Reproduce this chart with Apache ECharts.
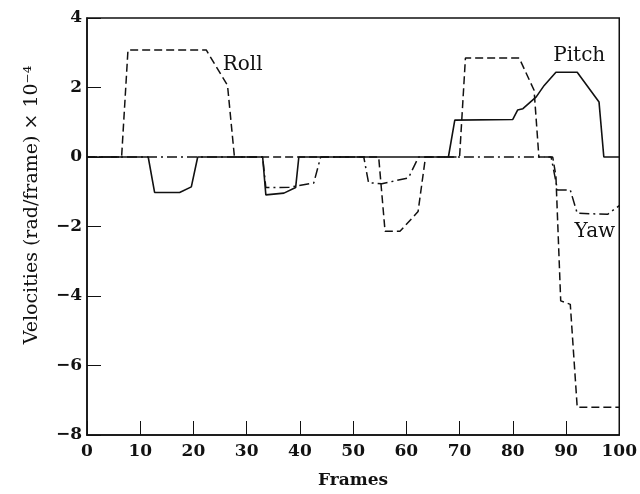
<!DOCTYPE html>
<html>
<head>
<meta charset="utf-8">
<script src="https://cdn.jsdelivr.net/npm/echarts@6/dist/echarts.min.js"></script>
<style>
html,body{margin:0;padding:0;background:#fff;}
#chart{width:640px;height:494px;}
</style>
</head>
<body>
<div id="chart"></div>
<script>
// ---- data ----
var rollX  = [0, 6.5, 7.7, 22.4, 26.4, 27.7, 54.8, 56.0, 58.8, 62.2, 63.6, 70.0, 71.1, 81.2, 84.0, 84.9, 87.5, 88.1, 89.0, 90.8, 92.1, 100];
var rollY  = [0, 0, 3.08, 3.08, 2.06, 0, 0, -2.14, -2.14, -1.57, 0, 0, 2.85, 2.85, 1.92, 0, 0, -0.55, -4.14, -4.24, -7.2, -7.2];
var pitchX = [0, 11.5, 12.7, 17.4, 19.6, 20.8, 33.0, 33.6, 37.0, 39.2, 39.8, 67.9, 69.1, 80.0, 80.9, 81.9, 84.4, 85.9, 88.1, 92.1, 96.2, 97.1, 100];
var pitchY = [0, 0, -1.02, -1.02, -0.86, 0, 0, -1.09, -1.04, -0.88, 0, 0, 1.06, 1.08, 1.35, 1.39, 1.73, 2.06, 2.44, 2.44, 1.58, 0, 0];
var yawX   = [0, 33.0, 33.6, 38.0, 42.6, 43.9, 52.0, 52.9, 55.4, 60.4, 62.3, 87.2, 88.4, 90.8, 92.1, 97.8, 100];
var yawY   = [0, 0, -0.88, -0.87, -0.75, 0, 0, -0.74, -0.77, -0.6, 0, 0, -0.95, -0.95, -1.62, -1.65, -1.4];
var labelNames = ['Roll', 'Pitch', 'Yaw'];
var labelX = [25.5, 87.6, 91.6];
var labelY = [2.66, 2.92, -2.16];
var xTicks = [0, 10, 20, 30, 40, 50, 60, 70, 80, 90, 100];
var yTicks = [-8, -6, -4, -2, 0, 2, 4];

function pairs(xs, ys) { return xs.map(function (x, i) { return [x, ys[i]]; }); }

var FONT = 'DejaVu Serif';
var INK = '#111';

var chart = echarts.init(document.getElementById('chart'), null, {renderer: 'canvas'});
chart.setOption({
  animation: false,
  backgroundColor: '#fff',
  grid: {left: 87, right: 18, top: 18, bottom: 57, show: true, borderColor: INK, borderWidth: 1.5, backgroundColor: 'transparent'},
  xAxis: {
    type: 'value', min: xTicks[0], max: xTicks[xTicks.length - 1], interval: 10,
    name: 'Frames', nameLocation: 'middle', nameGap: 37,
    nameTextStyle: {fontFamily: FONT, fontSize: 17, fontWeight: 'bold', color: INK},
    axisLine: {show: true, onZero: false, lineStyle: {color: INK, width: 1.5}},
    axisTick: {show: true, inside: true, length: 14, lineStyle: {color: INK, width: 1}},
    axisLabel: {fontFamily: FONT, fontSize: 17, fontWeight: 'bold', color: INK, margin: 8},
    splitLine: {show: false}
  },
  yAxis: {
    type: 'value', min: yTicks[0], max: yTicks[yTicks.length - 1], interval: 2,
    axisLine: {show: true, onZero: false, lineStyle: {color: INK, width: 1.5}},
    axisTick: {show: true, inside: true, length: 14, lineStyle: {color: INK, width: 1}},
    axisLabel: {fontFamily: FONT, fontSize: 17, fontWeight: 'bold', color: INK, margin: 5,
      formatter: function (v) { return String(v).replace('-', '\u2212'); }},
    splitLine: {show: false}
  },
  graphic: [{
    type: 'text', x: 32, y: 205, rotation: Math.PI / 2,
    style: {text: 'Velocities (rad/frame) \u00d7 10\u207b\u2074', fontFamily: FONT, fontSize: 19, fill: INK,
      align: 'center', verticalAlign: 'middle'}
  }],
  series: [
    {type: 'line', name: 'Yaw', data: pairs(yawX, yawY), symbol: 'none', z: 2,
      lineStyle: {color: INK, width: 1.5, type: [10, 4, 2, 4]}},
    {type: 'line', name: 'Roll', data: pairs(rollX, rollY), symbol: 'none', z: 3,
      lineStyle: {color: INK, width: 1.5, type: [8, 4]}},
    {type: 'line', name: 'Pitch', data: pairs(pitchX, pitchY), symbol: 'none', z: 4,
      lineStyle: {color: INK, width: 1.6, type: 'solid'}},
    {type: 'scatter', symbolSize: 0, silent: true, z: 5,
      itemStyle: {opacity: 1, color: INK},
      data: labelNames.map(function (n, i) { return {value: [labelX[i], labelY[i]], name: n}; }),
      label: {show: true, position: 'right', distance: 0, formatter: '{b}',
        fontFamily: FONT, fontSize: 20, color: INK, opacity: 1}}
  ]
});
</script>
</body>
</html>
